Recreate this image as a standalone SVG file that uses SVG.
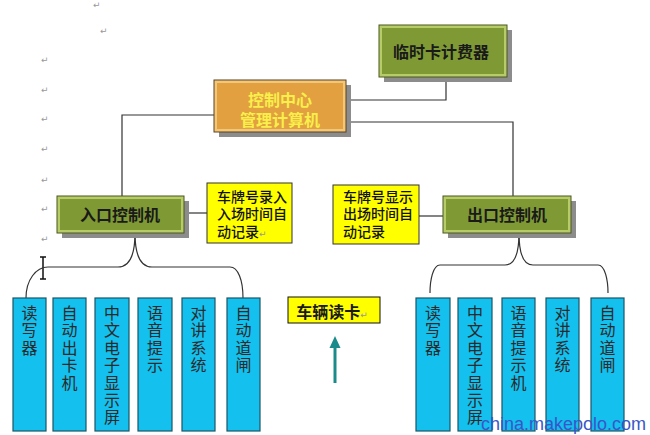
<svg xmlns="http://www.w3.org/2000/svg" width="650" height="435" viewBox="0 0 650 435">
<style>
.shadow{fill:#8c8c8c}
.green{fill:#7f9a34;stroke:#b7cc68;stroke-width:3}
.gedge{fill:none;stroke:#48561e;stroke-width:1}
.title{font-family:"Liberation Sans","Noto Sans CJK SC",sans-serif;font-size:16px;font-weight:bold;fill:#1a1a1a;text-anchor:middle}
.ytxt{font-family:"Liberation Sans","Noto Sans CJK SC",sans-serif;font-size:14px;font-weight:500;fill:#111}
.ybox{fill:#ffff00;stroke:#333;stroke-width:1}
.cyan{fill:#13c0ee;stroke:#1c5566;stroke-width:1.2}
.vtxt{font-family:"Noto Sans CJK SC","Noto Sans",sans-serif;font-size:16px;fill:#2a2a2a;writing-mode:vertical-rl;letter-spacing:1.4px}
.ret{font-family:"DejaVu Sans",sans-serif;font-size:9px;fill:#999}
.conn{fill:none;stroke:#333;stroke-width:1.2}
</style>
<rect width="650" height="435" fill="#fff"/>
<g id="marks">
<text class="ret" x="93" y="8">↵</text>
<text class="ret" x="100" y="34">↵</text>
<text class="ret" x="41" y="63">↵</text>
<text class="ret" x="41" y="93">↵</text>
<text class="ret" x="41" y="122">↵</text>
<text class="ret" x="41" y="152">↵</text>
<text class="ret" x="41" y="183">↵</text>
<text class="ret" x="41" y="212">↵</text>
<text class="ret" x="41" y="242">↵</text>
<path d="M43,257 V279 M40,257 H46 M40,279 H46" stroke="#111" stroke-width="1.5" fill="none"/>
</g>
<g id="connectors">
<path class="conn" d="M122,196 V115 H214"/>
<path class="conn" d="M446,77 V100 H346"/>
<path class="conn" d="M346,122 H513 V196"/>
<path class="conn" d="M184,213 H207"/>
<path class="conn" d="M419,216 H443"/>
<path class="conn" d="M135,233 C135,255 130,267 118,267 H48 C36,267 26,280 26,298"/>
<path class="conn" d="M135,233 C135,255 140,267 152,267 H230 C238,267 243,280 243,298"/>
<path class="conn" d="M519,233 C519,253 515,265 505,265 H440 C433,265 430,280 430,293"/>
<path class="conn" d="M519,233 C519,253 523,265 533,265 H598 C605,265 608,280 608,293"/>
<line x1="335" y1="383" x2="335" y2="346" stroke="#1a8a8a" stroke-width="3"/>
<polygon points="335,336 340.5,348 329.5,348" fill="#1a8a8a"/>
</g>
<g id="timer">
<rect class="shadow" x="384" y="30" width="128" height="52"/>
<rect class="green" x="380.5" y="26.5" width="125" height="49"/>
<rect class="gedge" x="379" y="25" width="128" height="52"/>
<text class="title" x="441" y="58">临时卡计费器</text>
</g>
<g id="center">
<rect class="shadow" x="219" y="85" width="132" height="52"/>
<rect x="215.5" y="81.5" width="129" height="49" fill="#e2a040" stroke="#f2c878" stroke-width="3"/>
<rect x="214" y="80" width="132" height="52" fill="none" stroke="#5a4020" stroke-width="1"/>
<text class="title" style="fill:#f8ef4a"><tspan x="280" y="106">控制中心</tspan><tspan x="280" y="126">管理计算机</tspan></text>
</g>
<g id="entry">
<rect class="shadow" x="62" y="201" width="127" height="37"/>
<rect class="green" x="58.5" y="197.5" width="124" height="34"/>
<rect class="gedge" x="57" y="196" width="127" height="37"/>
<text class="title" x="120" y="221">入口控制机</text>
</g>
<g id="exit">
<rect class="shadow" x="448" y="201" width="128" height="37"/>
<rect class="green" x="444.5" y="197.5" width="125" height="34"/>
<rect class="gedge" x="443" y="196" width="128" height="37"/>
<text class="title" x="507" y="221">出口控制机</text>
</g>
<g id="entry-note">
<rect class="ybox" x="207" y="183" width="85" height="60"/>
<text class="ytxt"><tspan x="217" y="202">车牌号录入</tspan><tspan x="217" y="219">入场时间自</tspan><tspan x="217" y="237">动记录</tspan><tspan class="ret">↵</tspan></text>
</g>
<g id="exit-note">
<rect class="ybox" x="333" y="185" width="86" height="59"/>
<text class="ytxt"><tspan x="343" y="202">车牌号显示</tspan><tspan x="343" y="219">出场时间自</tspan><tspan x="343" y="237">动记录</tspan></text>
</g>
<g id="card-read">
<rect class="ybox" x="288" y="297" width="92" height="26" style="stroke:#111"/>
<text class="title" x="332" y="318">车辆读卡<tspan class="ret" style="font-weight:normal">↵</tspan></text>
</g>
<g id="entry-devices">
<rect class="cyan" x="13" y="298" width="33" height="133"/>
<text class="vtxt" x="29.5" y="305">读写器</text>
<rect class="cyan" x="53" y="298" width="33" height="133"/>
<text class="vtxt" x="69.5" y="305">自动出卡机</text>
<rect class="cyan" x="95" y="298" width="34" height="133"/>
<text class="vtxt" x="112" y="305">中文电子显示屏</text>
<rect class="cyan" x="138" y="298" width="34" height="133"/>
<text class="vtxt" x="155" y="305">语音提示</text>
<rect class="cyan" x="182" y="298" width="33" height="133"/>
<text class="vtxt" x="198.5" y="305">对讲系统</text>
<rect class="cyan" x="227" y="298" width="33" height="133"/>
<text class="vtxt" x="243.5" y="305">自动道闸</text>
</g>
<g id="exit-devices">
<rect class="cyan" x="416" y="298" width="34" height="133"/>
<text class="vtxt" x="433" y="305">读写器</text>
<rect class="cyan" x="458" y="298" width="34" height="133"/>
<text class="vtxt" x="475" y="305">中文电子显示屏</text>
<rect class="cyan" x="502" y="298" width="33" height="133"/>
<text class="vtxt" x="518.5" y="305">语音提示机</text>
<rect class="cyan" x="546" y="298" width="33" height="133"/>
<text class="vtxt" x="562.5" y="305">对讲系统</text>
<rect class="cyan" x="591" y="298" width="33" height="133"/>
<text class="vtxt" x="607.5" y="305">自动道闸</text>
</g>
<text x="481" y="430" style="font-family:'Liberation Sans',Arial,sans-serif;font-size:18px;fill:#3a56c8">china.makepolo.com</text>
</svg>
